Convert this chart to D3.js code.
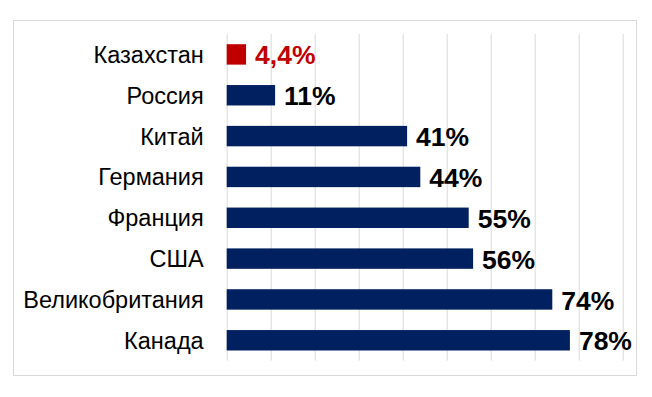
<!DOCTYPE html>
<html>
<head>
<meta charset="utf-8">
<script src="https://cdn.jsdelivr.net/npm/d3@7"></script>
<style>
  body { margin: 0; background: #fff; }
  svg { display: block; font-family: "Liberation Sans", Arial, sans-serif; }
</style>
</head>
<body>
<div id="chart"></div>
<script>
// data
var countries = ["Казахстан", "Россия", "Китай", "Германия", "Франция", "США", "Великобритания", "Канада"];
var shares = [4.4, 11, 41, 44, 55, 56, 74, 78];
var highlight = ["Казахстан"];
var gridTicks = [0, 10, 20, 30, 40, 50, 60, 70, 80, 90];

var rows = countries.map(function (c, i) { return { key: c, value: shares[i] }; });

var W = 652, H = 397;
var margin = { top: 34, right: 29.3, bottom: 36.3, left: 226.7 };
var width = W - margin.left - margin.right;
var height = H - margin.top - margin.bottom;

var ru = d3.formatLocale({ decimal: ",", thousands: " ", grouping: [3], currency: ["", ""] });
var fmt = function (v) { return (Number.isInteger(v) ? ru.format("d")(v) : ru.format(".1f")(v)) + "%"; };

var x = d3.scaleLinear().domain([0, 90]).range([0, width]);
var y = d3.scaleBand()
    .domain(countries)
    .range([0, height])
    .paddingInner(0.5)
    .paddingOuter(0.25);

var svg = d3.select("#chart")
    .append("svg")
    .attr("width", W)
    .attr("height", H);

// frame
svg.append("rect")
    .attr("x", 13.5)
    .attr("y", 20.5)
    .attr("width", 623)
    .attr("height", 355)
    .attr("fill", "none")
    .attr("stroke", "#d9d9d9");

var g = svg.append("g")
    .attr("transform", "translate(" + margin.left + "," + margin.top + ")");

// vertical gridlines
g.append("g")
    .attr("class", "grid")
    .attr("transform", "translate(0," + height + ")")
    .call(d3.axisBottom(x).tickValues(gridTicks).tickSize(-height).tickFormat(""))
    .call(function (a) {
        a.select(".domain").remove();
        a.selectAll("line").attr("stroke", "#d9d9d9").attr("stroke-width", 1);
    });

// category labels
g.append("g")
    .selectAll("text")
    .data(rows)
    .enter().append("text")
    .attr("x", -23)
    .attr("y", function (d) { return y(d.key) + y.bandwidth() / 2; })
    .attr("dy", "0.36em")
    .attr("text-anchor", "end")
    .attr("font-size", 23.5)
    .attr("fill", "#000")
    .text(function (d) { return d.key; });

// bars
g.selectAll(".bar")
    .data(rows)
    .enter().append("rect")
    .attr("class", "bar")
    .attr("x", x(0))
    .attr("y", function (d) { return y(d.key); })
    .attr("width", function (d) { return x(d.value) - x(0); })
    .attr("height", y.bandwidth())
    .attr("fill", function (d) { return highlight.indexOf(d.key) >= 0 ? "#c00000" : "#002060"; });

// value labels
g.selectAll(".val")
    .data(rows)
    .enter().append("text")
    .attr("class", "val")
    .attr("x", function (d) { return x(d.value) + 9; })
    .attr("y", function (d) { return y(d.key) + y.bandwidth() / 2; })
    .attr("dy", "0.38em")
    .attr("font-size", 26.5)
    .attr("font-weight", "bold")
    .attr("fill", function (d) { return highlight.indexOf(d.key) >= 0 ? "#c00000" : "#000"; })
    .text(function (d) { return fmt(d.value); });
</script>
</body>
</html>
